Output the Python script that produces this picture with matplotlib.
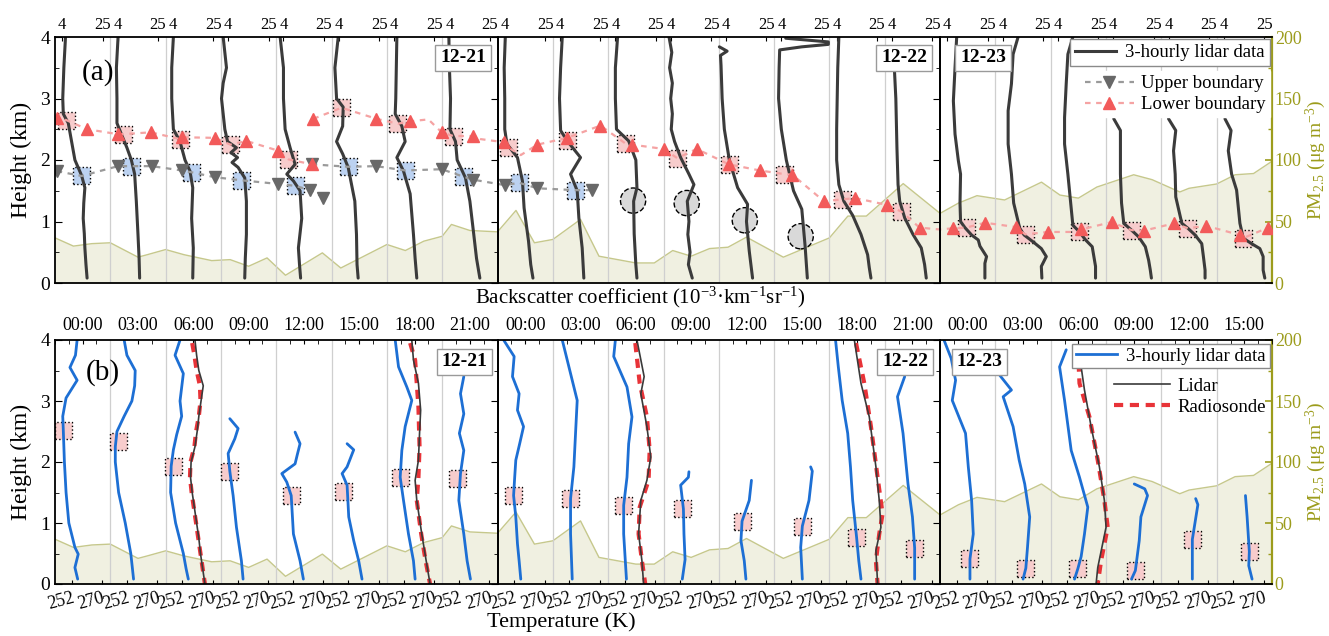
import numpy as np
import matplotlib
matplotlib.use('Agg')
import matplotlib.pyplot as plt
from matplotlib.lines import Line2D
from matplotlib.ticker import MultipleLocator

plt.rcParams['font.family'] = ['Liberation Serif', 'DejaVu Serif']
plt.rcParams['mathtext.fontset'] = 'custom'
plt.rcParams['mathtext.rm'] = 'Liberation Serif'
plt.rcParams['mathtext.it'] = 'Liberation Serif:italic'

# ---------------- data ----------------
days = ['12-21', '12-22', '12-23']
n_prof = [8, 8, 6]
hours = ['00:00', '03:00', '06:00', '09:00', '12:00', '15:00', '18:00', '21:00']

# PM2.5 (hours since 12-21 00:00, ug/m3)
pm_hours = [0, 1, 2, 3, 4.5, 5, 6, 7, 8.5, 9.5, 10.5, 11.5, 12.5, 14.5, 15.5, 18, 19, 20, 21,
            21.5, 22.5, 24, 25, 26, 27, 28.5, 29.5, 31.5, 32.5, 33.5, 34.5, 35.5, 36.5, 37.5,
            39.5, 42, 43, 44, 46, 48, 49, 50, 51.5, 53.5, 54.5, 55.5, 56.5, 58.5, 59.5, 61,
            61.5, 63, 64, 65, 66]
pm_vals = [36.7, 30, 32, 32.7, 21, 23, 27.2, 23, 18.2, 19, 13.6, 20.4, 6.3, 24.5, 12.2, 31.3,
           26.4, 34, 38, 47.6, 42.7, 41.6, 59, 32.7, 35.4, 51.7, 21.8, 16.3, 16.3, 26.4, 21.8,
           28, 29.1, 37.3, 21, 36.7, 54.4, 54.4, 80.8, 56.6, 65, 71, 67.5, 82, 71.5, 69, 78,
           88, 84, 74, 77, 80.5, 88, 89, 99]

# (a) backscatter profiles: (height km, position inside the 3-hourly column 0..1)
bsc = [
    [(4.0, .19), (3.5, .16), (3.0, .14), (2.75, .15), (2.6, .24), (2.3, .30), (2.0, .36), (1.75, .48),
     (1.55, .54), (1.3, .52), (1.05, .51), (0.8, .53), (0.57, .54), (0.3, .56), (0.08, .58)],
    [(4.0, .14), (3.5, .11), (3.0, .12), (2.6, .12), (2.42, .2), (2.2, .3), (2.0, .38), (1.77, .44),
     (1.33, .47), (0.79, .5), (0.4, .52), (0.08, .53)],
    [(4.0, .14), (3.5, .11), (3.0, .11), (2.5, .14), (2.3, .26), (2.0, .35), (1.82, .44), (1.55, .49),
     (1.05, .47), (0.57, .5), (0.08, .49)],
    [(4.0, .04), (3.75, .07), (3.5, .1), (3.25, .04), (3.0, .01), (2.75, .04), (2.5, .07), (2.3, .12),
     (2.2, .28), (2.12, .18), (2.04, .3), (1.96, .2), (1.88, .31), (1.71, .43), (1.33, .46),
     (0.79, .46), (0.4, .44), (0.08, .43)],
    [(4.0, .07), (3.5, .13), (3.0, .13), (2.5, .16), (2.2, .25), (1.93, .34), (1.77, .19), (1.66, .31),
     (1.5, .43), (1.05, .46), (0.57, .4), (0.3, .42), (0.08, .44)],
    [(4.0, .12), (3.5, .06), (3.0, .09), (2.86, .21), (2.55, .2), (2.3, .09), (2.1, .2), (1.88, .3),
     (1.33, .42), (0.79, .45), (0.3, .46), (0.08, .48)],
    [(4.0, .18), (3.5, .17), (3.0, .16), (2.75, .15), (2.55, .27), (2.3, .33), (2.04, .18), (1.82, .3),
     (1.45, .42), (0.79, .48), (0.4, .51), (0.08, .54)],
    [(4.0, .12), (3.5, .13), (3.0, .15), (2.5, .14), (2.3, .24), (2.0, .27), (1.71, .42), (1.33, .5),
     (0.79, .57), (0.4, .62), (0.08, .68)],
    [(4.0, .14), (3.5, .12), (3.0, .13), (2.5, .13), (2.26, .17), (2.04, .36), (1.66, .45), (1.22, .48),
     (0.68, .56), (0.3, .6), (0.08, .64)],
    [(4.0, .17), (3.5, .14), (3.0, .12), (2.48, .14), (2.31, .26), (2.04, .5), (1.77, .32), (1.5, .44),
     (1.06, .47), (0.57, .53), (0.08, .56)],
    [(4.0, .17), (3.5, .13), (3.0, .13), (2.5, .15), (2.31, .37), (2.0, .5), (1.55, .52), (1.33, .46),
     (0.8, .47), (0.3, .5), (0.08, .52)],
    [(4.0, .1), (3.75, .15), (3.5, .11), (3.25, .16), (3.0, .13), (2.75, .16), (2.5, .14), (2.3, .2),
     (2.04, .31), (1.77, .46), (1.6, .55), (1.33, .43), (1.0, .46), (0.79, .44), (0.5, .48),
     (0.3, .45), (0.08, .52)],
    [(3.84, .01), (3.77, .15), (3.7, .03), (3.54, .04), (3.0, .06), (2.5, .1), (2.0, .19), (1.55, .34),
     (1.28, .52), (1.0, .5), (0.52, .55), (0.08, .61)],
    [(3.98, .21), (3.92, .98), (3.88, .98), (3.84, .5), (3.79, .1), (3.5, .09), (3.0, .08), (2.5, .13),
     (2.0, .22), (1.5, .35), (1.2, .5), (1.0, .52), (0.6, .56), (0.08, .6)],
    [(4.0, .17), (3.5, .15), (3.0, .14), (2.5, .13), (2.0, .13), (1.6, .17), (1.33, .26), (1.1, .42),
     (0.79, .57), (0.46, .69), (0.25, .72), (0.08, .75)],
    [(3.55, .17), (3.0, .2), (2.2, .22), (1.6, .24), (1.33, .27), (1.06, .36), (0.79, .51), (0.57, .66),
     (0.3, .72), (0.08, .75)],
    [(4.0, .3), (3.5, .27), (2.96, .24), (2.42, .27), (1.99, .33), (1.77, .37), (1.3, .36), (1.0, .37),
     (0.9, .45), (0.78, .57), (0.7, .69), (0.6, .72), (0.43, .84), (0.32, .81), (0.08, .81)],
    [(4.0, .41), (3.72, .32), (3.24, .29), (2.8, .23), (2.26, .23), (1.77, .29), (1.3, .33), (0.89, .44),
     (0.78, .52), (0.67, .68), (0.56, .83), (0.43, .92), (0.27, .83), (0.08, .84)],
    [(4.0, .4), (3.72, .31), (3.24, .28), (2.69, .25), (2.26, .25), (1.77, .31), (1.4, .35), (0.94, .4),
     (0.83, .52), (0.7, .63), (0.59, .75), (0.43, .78), (0.27, .81), (0.08, .81)],
    [(2.67, .14), (2.48, .26), (2.15, .26), (1.77, .26), (1.3, .28), (0.97, .32), (0.86, .46), (0.75, .59),
     (0.59, .71), (0.37, .77), (0.21, .8), (0.08, .82)],
    [(2.67, .13), (2.48, .26), (2.15, .22), (1.77, .25), (1.4, .26), (0.97, .37), (0.89, .48), (0.78, .61),
     (0.64, .73), (0.43, .76), (0.21, .79), (0.08, .79)],
    [(2.67, .15), (2.48, .26), (2.15, .21), (1.77, .27), (1.51, .36), (0.97, .42), (0.73, .48), (0.64, .63),
     (0.56, .78), (0.43, .84), (0.21, .84), (0.08, .87)],
]

# (a) boundaries: column position, height, triangle marker flag
ub_x = [0.03, 0.48, 1.14, 1.39, 1.75, 2.29, 2.47, 2.89, 3.37, 4.04, 4.34, 4.61, 4.85, np.nan,
        4.64, 5.3, 5.81, 6.33, 6.99, 7.38, 7.56, 8.14, 8.39, 8.72, 9.41, 9.71]
ub_h = [1.82, 1.74, 1.90, 1.90, 1.90, 1.83, 1.80, 1.72, 1.67, 1.61, 1.58, 1.51, 1.39, np.nan,
        1.93, 1.89, 1.90, 1.83, 1.85, 1.73, 1.68, 1.59, 1.63, 1.54, 1.51, 1.51]
ub_tri = [1, 0, 1, 0, 1, 1, 0, 1, 0, 1, 0, 1, 1, 0,
          1, 0, 1, 0, 1, 0, 1, 1, 0, 1, 0, 1]

lb_x = [0.0, 0.03, 0.2, 0.58, 1.14, 1.23, 1.73, 2.26, 2.29, 2.89, 3.17, 3.46, 4.04, 4.22, 4.64, np.nan,
        4.67, 5.18, 5.81, 6.2, 6.42, 6.75, 6.99, 7.2, 7.56, 7.69, 8.11, 8.2, 8.42, 8.72, 9.26,
        9.86, 10.31, 10.43, 11.0, 11.25, 11.6, 12.18, 12.74, 13.19, 13.33, 13.9, 14.23, 14.47,
        15.04, 15.3, 15.63, 16.0, 16.23, 16.47, 16.81, 17.37, 17.54, 17.95, 18.52, 18.55,
        19.1, 19.46, 19.68, 20.23, 20.48, 20.81, 21.42, 21.48, 21.93]
lb_h = [2.72, 2.69, 2.65, 2.50, 2.42, 2.42, 2.45, 2.34, 2.37, 2.36, 2.25, 2.31, 2.15, 2.01, 1.93, np.nan,
        2.67, 2.85, 2.67, 2.59, 2.63, 2.66, 2.45, 2.39, 2.39, 2.34, 2.29, 2.2, 2.08, 2.25, 2.36,
        2.56, 2.27, 2.25, 2.18, 2.03, 2.18, 1.93, 1.83, 1.77, 1.76, 1.33, 1.36, 1.38,
        1.27, 1.16, 0.9, 0.87, 0.89, 0.9, 0.98, 0.91, 0.79, 0.83, 0.83, 0.87,
        0.99, 0.86, 0.85, 0.97, 0.89, 0.93, 0.78, 0.73, 0.9]
lb_tri = [0, 1, 0, 1, 1, 0, 1, 0, 1, 1, 0, 1, 1, 0, 1, 0,
          1, 0, 1, 0, 1, 0, 1, 0, 1, 0, 1, 0, 0, 1, 1,
          1, 0, 1, 1, 0, 1, 1, 1, 0, 1, 1, 0, 1,
          1, 0, 1, 0, 1, 0, 1, 1, 0, 1, 0, 1,
          1, 0, 1, 1, 0, 1, 1, 0, 1]

box_up_x = [0.48, 1.39, 2.47, 3.37, 4.34, 5.3, 6.33, 7.38, 8.39, 9.41]
box_up_h = [1.74, 1.90, 1.80, 1.67, 1.58, 1.89, 1.83, 1.73, 1.63, 1.51]
box_lo_x = [0.2, 1.23, 2.26, 3.17, 4.22, 5.18, 6.2, 7.2, 8.2, 9.27, 10.31, 11.25, 12.2, 13.19,
            14.23, 15.3, 16.47, 17.54, 18.52, 19.46, 20.48, 21.48]
box_lo_h = [2.65, 2.42, 2.34, 2.25, 2.01, 2.85, 2.59, 2.39, 2.2, 2.32, 2.27, 2.03, 1.93, 1.77,
            1.36, 1.16, 0.9, 0.79, 0.83, 0.86, 0.89, 0.73]
circ_x = [10.45, 11.42, 12.47, 13.48]
circ_h = [1.34, 1.30, 1.02, 0.76]

# (b) lidar temperature profiles (height km, position in column; 252 K at .30, 270 K at .85)
temp = [
    [(4.0, .40), (3.75, .37), (3.55, .27), (3.34, .4), (3.05, .2), (2.75, .14), (2.52, .15), (2.0, .17),
     (1.5, .2), (1.0, .25), (0.6, .36), (0.49, .42), (0.27, .36), (0.08, .41)],
    [(4.0, .25), (3.75, .3), (3.5, .45), (3.25, .44), (3.0, .39), (2.75, .25), (2.5, .12), (2.25, .09),
     (2.0, .09), (1.5, .15), (1.0, .27), (0.5, .37), (0.25, .4), (0.08, .42)],
    [(4.0, .26), (3.75, .17), (3.45, .32), (3.0, .26), (2.75, .29), (2.45, .2), (2.2, .14), (1.93, .1),
     (1.5, .09), (1.0, .18), (0.5, .32), (0.25, .37), (0.08, .41)],
    [(2.71, .16), (2.55, .31), (2.38, .25), (2.14, .13), (1.85, .16), (1.45, .22), (0.93, .28),
     (0.38, .37), (0.08, .4)],
    [(2.49, .34), (2.3, .43), (2.12, .38), (1.97, .34), (1.81, .1), (1.67, .19), (1.45, .27), (0.82, .31),
     (0.38, .43), (0.08, .49)],
    [(2.3, .28), (2.2, .4), (1.92, .28), (1.81, .19), (1.62, .28), (1.1, .31), (0.71, .4), (0.38, .49),
     (0.08, .55)],
    [(4.0, .15), (3.56, .21), (3.23, .36), (3.01, .45), (2.58, .33), (2.19, .27), (1.75, .24), (1.37, .3),
     (0.82, .39), (0.38, .48), (0.08, .51)],
    [(3.4, .39), (3.12, .33), (2.79, .39), (2.47, .31), (2.19, .39), (1.81, .33), (1.37, .3), (0.82, .39),
     (0.38, .45), (0.08, .51)],
    [(4.0, .11), (3.73, .3), (3.4, .27), (3.12, .39), (2.85, .36), (2.58, .47), (2.3, .4), (2.03, .33),
     (1.75, .31), (1.45, .29), (1.1, .33), (0.66, .36), (0.38, .39), (0.08, .42)],
    [(4.0, .17), (3.56, .29), (3.01, .44), (2.47, .41), (1.92, .38), (1.4, .32), (0.82, .32), (0.08, .35)],
    [(4.0, .13), (3.73, .1), (3.23, .34), (2.74, .43), (2.3, .37), (1.75, .34), (1.29, .28), (0.82, .28),
     (0.08, .33)],
    [(1.84, .46), (1.75, .45), (1.62, .31), (1.23, .36), (0.82, .37), (0.4, .39), (0.08, .34)],
    [(1.7, .59), (1.37, .55), (1.03, .42), (0.71, .4), (0.38, .46), (0.08, .49)],
    [(1.92, .66), (1.85, .69), (1.37, .63), (0.95, .51), (0.6, .48), (0.08, .51)],
    [(4.0, .11), (3.56, .16), (3.01, .23), (2.47, .33), (1.92, .38), (1.37, .42), (0.77, .49), (0.38, .53),
     (0.08, .57)],
    [(3.4, .36), (3.07, .23), (2.47, .33), (1.64, .42), (1.1, .5), (0.59, .54), (0.08, .54)],
    [(4.0, .07), (3.7, .2), (3.34, .28), (3.01, .22), (2.47, .46), (1.92, .51), (1.37, .57), (0.82, .6),
     (0.41, .54), (0.08, .54)],
    [(3.42, .08), (3.18, .29), (3.07, .14), (2.58, .32), (2.03, .43), (1.64, .53), (1.1, .62), (0.6, .58),
     (0.26, .55), (0.08, .5)],
    [(3.84, .28), (3.56, .16), (3.01, .25), (2.19, .37), (1.75, .52), (1.26, .67), (0.82, .61), (0.45, .55),
     (0.25, .49), (0.08, .43)],
    [(1.64, .51), (1.56, .7), (1.45, .75), (1.1, .63), (0.71, .6), (0.22, .53), (0.08, .46)],
    [(1.4, .62), (1.3, .66), (0.73, .56), (0.4, .56), (0.08, .56)],
    [(1.45, .52), (1.1, .55), (0.53, .59), (0.3, .58), (0.08, .64)],
]
box_b_x = [0.16, 1.14, 2.15, 3.16, 4.27, 5.22, 6.24, 7.27, 8.29, 9.32, 10.28, 11.34, 12.42, 13.51,
           14.49, 15.54, 16.54, 17.55, 18.49, 19.53, 20.56, 21.59]
box_b_h = [2.52, 2.33, 1.93, 1.85, 1.45, 1.51, 1.75, 1.73, 1.45, 1.4, 1.29, 1.23, 1.03, 0.95,
           0.77, 0.59, 0.41, 0.26, 0.25, 0.22, 0.73, 0.53]

# (b) comparison with radiosonde at selected columns
cmp_cols = [2, 6, 10, 14, 18]
cmp_lidar = [
    [(4.0, .53), (3.75, .56), (3.5, .6), (3.25, .68), (3.0, .64), (2.75, .6), (2.5, .57), (2.25, .53),
     (2.0, .46), (1.75, .45), (1.5, .48), (1.25, .52), (1.0, .56), (0.75, .6), (0.5, .63), (0.25, .67), (0.0, .71)],
    [(4.0, .45), (3.67, .48), (3.29, .57), (2.85, .61), (2.47, .59), (2.03, .57), (1.7, .51), (1.37, .54),
     (0.82, .63), (0.38, .71), (0.0, .78)],
    [(4.0, .52), (3.4, .65), (3.12, .59), (2.58, .7), (2.08, .77), (1.7, .7), (1.37, .59), (0.82, .55),
     (0.38, .61), (0.0, .64)],
    [(4.0, .45), (3.29, .57), (2.74, .72), (1.92, .84), (1.37, .9), (0.93, .93), (0.55, .84), (0.0, .87)],
    [(3.56, .55), (3.18, .61), (2.58, .73), (1.92, .88), (1.37, .97), (0.93, 1.0), (0.27, .85), (0.0, .82)],
]
cmp_sonde = [
    [(3.95, .48), (3.75, .52), (3.5, .56), (3.25, .62), (3.0, .63), (2.75, .6), (2.5, .55), (2.25, .52),
     (2.0, .45), (1.75, .44), (1.5, .47), (1.25, .51), (1.0, .55), (0.75, .59), (0.5, .63), (0.25, .67), (0.0, .71)],
    [(3.95, .42), (3.67, .51), (2.9, .57), (2.25, .59), (1.75, .57), (1.37, .54), (0.82, .62), (0.38, .7), (0.0, .78)],
    [(3.95, .49), (3.29, .57), (2.74, .7), (2.19, .75), (1.7, .73), (1.26, .57), (0.82, .55), (0.38, .61), (0.0, .67)],
    [(3.95, .48), (3.29, .63), (2.58, .75), (1.75, .87), (1.15, .96), (0.82, .9), (0.38, .84), (0.0, .87)],
    [(3.89, .49), (3.29, .52), (2.74, .7), (2.03, .85), (1.37, .97), (0.93, 1.03), (0.38, .91), (0.0, .85)],
]

# ---------------- style ----------------
OLIVE = '#9c9c1c'
PM_FILL = '#f0f0e1'
PM_LINE = '#c6c88c'
GRAY_PROF = '#3b3b3b'
BLUE = '#1d6fd4'
RED_TRI = '#f25a5a'
RED_LINE = '#f5a3a3'
N = sum(n_prof)

fig = plt.figure(figsize=(13.29, 6.36), dpi=100)


def make_row(rect):
    ax = fig.add_axes(rect)
    pm = ax.twinx()
    pm.set_zorder(1)
    ax.set_zorder(2)
    ax.patch.set_visible(False)
    ax.set_xlim(0, N)
    ax.set_ylim(0, 4)
    for s in ax.spines.values():
        s.set_visible(False)
    ax.yaxis.set_major_locator(MultipleLocator(1))
    ax.yaxis.set_minor_locator(MultipleLocator(0.5))
    ax.tick_params(axis='y', which='both', direction='in', labelsize=14, right=False)
    ax.tick_params(axis='y', which='major', length=5)
    ax.tick_params(axis='y', which='minor', length=3)
    ax.set_ylabel('Height (km)', fontsize=17, labelpad=6)
    for c in range(1, N):
        if c not in (8, 16):
            ax.axvline(c, color='#cfcfcf', lw=0.9, zorder=0.5)

    # PM2.5 background
    pm_x = np.array(pm_hours) / 3.0
    pm.fill_between(pm_x, 0, pm_vals, color=PM_FILL, lw=0)
    pm.plot(pm_x, pm_vals, color=PM_LINE, lw=1.0)
    pm.set_ylim(0, 200)
    pm.set_xlim(0, N)
    for k in ('left', 'top', 'bottom'):
        pm.spines[k].set_visible(False)
    pm.spines['right'].set_color(OLIVE)
    pm.spines['right'].set_linewidth(1.6)
    pm.yaxis.set_major_locator(MultipleLocator(50))
    pm.yaxis.set_minor_locator(MultipleLocator(25))
    pm.tick_params(axis='y', which='both', direction='in', colors=OLIVE, labelsize=13,
                   labelcolor=OLIVE, pad=2)
    pm.tick_params(axis='y', which='major', length=5, width=1.2)
    pm.tick_params(axis='y', which='minor', length=3, width=1.0)
    fig.text(1316 / 1329, rect[1] + rect[3] / 2, 'PM$_{2.5}$ (μg m$^{-3}$)', color=OLIVE,
             fontsize=14, rotation=90, ha='center', va='center')

    # day frames
    start = 0
    for k, n in enumerate(n_prof):
        fr = fig.add_axes([rect[0] + rect[2] * start / N, rect[1], rect[2] * n / N, rect[3]])
        fr.set_zorder(3)
        fr.patch.set_visible(False)
        fr.set_xlim(0, n)
        fr.set_ylim(0, 4)
        fr.set_xticks([])
        fr.yaxis.set_major_locator(MultipleLocator(1))
        fr.yaxis.set_minor_locator(MultipleLocator(0.5))
        fr.tick_params(axis='y', which='both', direction='in', left=False, right=(k < 2),
                       labelleft=False, labelright=False)
        fr.tick_params(axis='y', which='major', length=5)
        fr.tick_params(axis='y', which='minor', length=3)
        for s in fr.spines.values():
            s.set_linewidth(1.3)
        if k == 2:
            fr.spines['right'].set_visible(False)
        start += n
    return ax, pm


def draw_prof(ax, col, prof, **kw):
    h = [p[0] for p in prof]
    f = [col + p[1] for p in prof]
    ax.plot(f, h, **kw)


def day_labels(ax, xs, y):
    for d, x in zip(days, xs):
        ax.text(x, y, d, fontsize=14, fontweight='bold', ha='center', va='center', zorder=6,
                bbox=dict(boxstyle='square,pad=0.25', fc='white', ec='#9a9a9a', lw=1.0))


# ---------------- panel (a) ----------------
axa, pma = make_row([55 / 1329, 1 - 283 / 636, 1217 / 1329, 246 / 636])
xt, xl = [], []
for c in range(N):
    xt += [c + 0.13, c + 0.86]
    xl += ['4', '25']
axa.set_xticks(xt, xl)
axa.tick_params(axis='x', top=True, bottom=False, labeltop=True, labelbottom=False,
                direction='in', length=3, labelsize=12, pad=3)

axa.scatter(box_up_x, box_up_h, marker='s', s=150, facecolor='#bcd2f1', edgecolor='black',
            linewidths=1.0, linestyle=':', zorder=2)
axa.scatter(box_lo_x, box_lo_h, marker='s', s=150, facecolor='#f7cccc', edgecolor='black',
            linewidths=1.0, linestyle=':', zorder=2)
axa.scatter(circ_x, circ_h, marker='o', s=330, facecolor='#d9d9d9', edgecolor='black',
            linewidths=1.0, linestyle='--', zorder=2)
for i, prof in enumerate(bsc):
    draw_prof(axa, i, prof, color=GRAY_PROF, lw=2.2, zorder=3, solid_capstyle='round')

ub_x_a = np.array(ub_x)
ub_h_a = np.array(ub_h)
ub_m = np.array(ub_tri) == 1
axa.plot(ub_x_a, ub_h_a, color='#9a9a9a', ls=(0, (2.5, 2.5)), lw=1.6, zorder=4)
axa.plot(ub_x_a[ub_m], ub_h_a[ub_m], ls='none', marker='v', ms=8, color='#686868', zorder=5)
lb_x_a = np.array(lb_x)
lb_h_a = np.array(lb_h)
lb_m = np.array(lb_tri) == 1
axa.plot(lb_x_a, lb_h_a, color=RED_LINE, ls=(0, (2.5, 2.5)), lw=1.6, zorder=4)
axa.plot(lb_x_a[lb_m], lb_h_a[lb_m], ls='none', marker='^', ms=8, color=RED_TRI, zorder=5)

axa.text(0.78, 3.43, '(a)', fontsize=21, ha='center', va='center')
day_labels(axa, [7.38, 15.35, 16.78], 3.66)

leg1 = axa.legend([Line2D([], [], color=GRAY_PROF, lw=2.2)], ['3-hourly lidar data'],
                  loc='upper right', bbox_to_anchor=(0.998, 0.99), fontsize=13.5, frameon=True,
                  fancybox=False, edgecolor='#8a8a8a', framealpha=1, handlelength=2.2,
                  borderpad=0.25, borderaxespad=0, handletextpad=0.5)
leg1.set_zorder(7)
axa.add_artist(leg1)
leg2 = axa.legend([Line2D([], [], color='#9a9a9a', ls=(0, (2.5, 2.5)), lw=1.6, marker='v', ms=8,
                          mfc='#686868', mec='#686868'),
                   Line2D([], [], color=RED_LINE, ls=(0, (2.5, 2.5)), lw=1.6, marker='^', ms=8,
                          mfc=RED_TRI, mec=RED_TRI)],
                  ['Upper boundary', 'Lower boundary'], loc='upper right',
                  bbox_to_anchor=(0.998, 0.86), fontsize=13.5, frameon=True, fancybox=False,
                  edgecolor='white', framealpha=1, handlelength=2.6, borderpad=0.2,
                  borderaxespad=0, handletextpad=0.4, labelspacing=0.2)
leg2.set_zorder(7)

fig.text(640 / 1329, 1 - 297 / 636, 'Backscatter coefficient (10$^{-3}$·km$^{-1}$sr$^{-1}$)',
         fontsize=15, ha='center', va='center')

# ---------------- panel (b) ----------------
axb, pmb = make_row([55 / 1329, 1 - 584 / 636, 1217 / 1329, 244 / 636])
xt, xl = [], []
for c in range(N):
    xt += [c + 0.30, c + 0.85]
    xl += ['252', '270']
axb.set_xticks(xt, xl)
axb.tick_params(axis='x', top=False, bottom=True, direction='in', length=3, labelsize=13, pad=4)
for lab in axb.get_xticklabels():
    lab.set_rotation(15)
    lab.set_ha('right')
    lab.set_va('top')
    lab.set_rotation_mode('anchor')

sec = axb.secondary_xaxis('top')
time_labels = []
for k, n in enumerate(n_prof):
    time_labels += hours[:n]
sec.set_xticks([c + 0.5 for c in range(N)], time_labels)
sec.xaxis.set_minor_locator(MultipleLocator(0.25))
sec.tick_params(axis='x', which='both', direction='in', labelsize=13, pad=4)
sec.tick_params(axis='x', which='major', length=3)
sec.tick_params(axis='x', which='minor', length=3)
for s in sec.spines.values():
    s.set_visible(False)

axb.scatter(box_b_x, box_b_h, marker='s', s=150, facecolor='#f7cccc', edgecolor='black',
            linewidths=1.0, linestyle=':', zorder=2)
for i, prof in enumerate(temp):
    draw_prof(axb, i, prof, color=BLUE, lw=2.0, zorder=3, solid_capstyle='round')
for col, pl, ps in zip(cmp_cols, cmp_lidar, cmp_sonde):
    draw_prof(axb, col, ps, color='#e83338', lw=3.0, ls=(0, (2.2, 1.6)), zorder=4)
    draw_prof(axb, col, pl, color='#3a3a3a', lw=1.2, zorder=5)

axb.text(0.87, 3.46, '(b)', fontsize=21, ha='center', va='center')
day_labels(axb, [7.4, 15.37, 16.71], 3.64)

leg3 = axb.legend([Line2D([], [], color=BLUE, lw=2.0)], ['3-hourly lidar data'],
                  loc='upper right', bbox_to_anchor=(0.998, 0.985), fontsize=13.5, frameon=True,
                  fancybox=False, edgecolor='#8a8a8a', framealpha=1, handlelength=2.2,
                  borderpad=0.2, borderaxespad=0, handletextpad=0.5)
leg3.set_zorder(7)
axb.add_artist(leg3)
leg4 = axb.legend([Line2D([], [], color='#3a3a3a', lw=1.2),
                   Line2D([], [], color='#e83338', lw=3.0, ls=(0, (2.2, 1.6)))],
                  ['Lidar', 'Radiosonde'], loc='upper right', bbox_to_anchor=(0.998, 0.86),
                  fontsize=13.5, frameon=False, handlelength=3.0, borderpad=0.2,
                  borderaxespad=0, handletextpad=0.4, labelspacing=0.2)
leg4.set_zorder(7)

fig.text(561 / 1329, 1 - 622 / 636, 'Temperature (K)', fontsize=16, ha='center', va='center')

fig.savefig('out.png', dpi=100)
